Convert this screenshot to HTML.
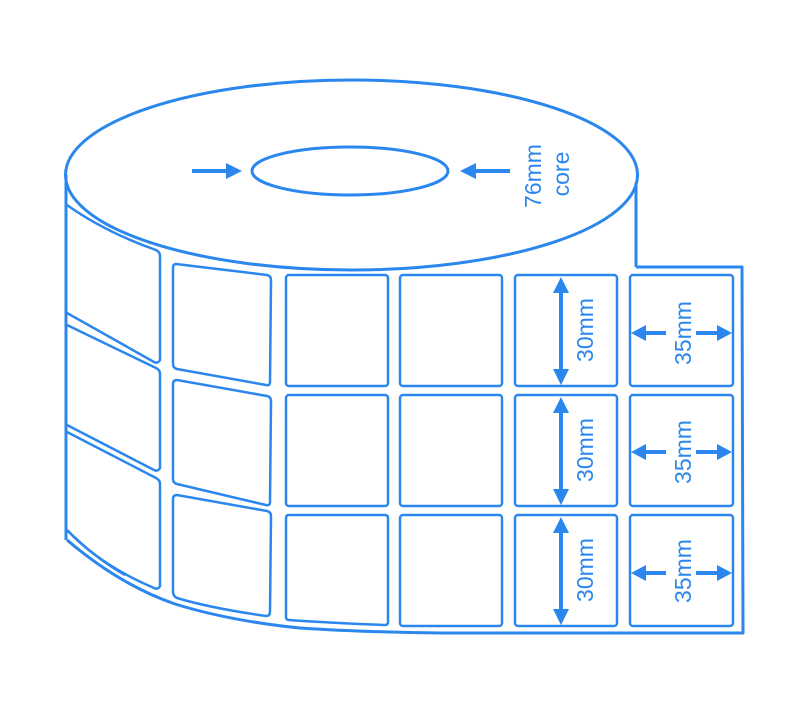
<!DOCTYPE html>
<html><head><meta charset="utf-8"><style>
html,body{margin:0;padding:0;background:#fff;}
svg{display:block;}
text{font-family:"Liberation Sans",sans-serif;fill:#2b87ee;font-size:23px;}
</style></head><body>
<svg width="800" height="714" viewBox="0 0 800 714" xmlns="http://www.w3.org/2000/svg">
<g fill="none" stroke="#2b87ee" stroke-width="3" stroke-linejoin="round">
<ellipse cx="351.5" cy="175" rx="286" ry="95"/>
<ellipse cx="350" cy="171" rx="98" ry="24"/>
<line x1="66" y1="175" x2="66" y2="540"/>
<line x1="636" y1="183" x2="636" y2="267"/>
<path d="M636,267 L742,267 L743,633 L440,633 Q360,632 300,628 Q230,621 175,604 Q120,585 67,540" />
<path d="M67,530 Q95,558 125,575" stroke-width="2.5"/>
</g>
<g fill="none" stroke="#2b87ee" stroke-width="2.5" stroke-linejoin="round">
<path d="M67,205 Q105,232 156,250 Q160,252 160,256 L160,360 Q158,364 154,362 L67,313"/>
<path d="M67,325 L156,368 Q160,370 160,374 L160,468 Q158,472 154,470 L67,425"/>
<path d="M67,432 L156,478 Q160,480 160,484 L160,586 Q158,590 154,588 Q100,565 67,530"/>
<path d="M176,264 L267,275 Q271,276 271,280 L270,382 Q270,386 266,385 L177,369 Q173,368 173,364 L173,268 Q173,264 176,264Z"/>
<path d="M177,380 L267,396 Q271,397 271,401 L270,502 Q270,506 266,505 L177,484 Q173,483 173,479 L173,384 Q173,380 177,380Z"/>
<path d="M177,495 L267,511 Q271,512 271,516 L270,612 Q270,616 266,616 Q210,608 177,598 Q173,596 173,592 L173,499 Q173,495 177,495Z"/>
<rect x="286" y="275" width="102" height="111" rx="3"/>
<rect x="400" y="275" width="102" height="111" rx="3"/>
<rect x="515" y="275" width="102" height="111" rx="3"/>
<rect x="630" y="275" width="103" height="111" rx="3"/>
<rect x="286" y="395" width="102" height="111" rx="3"/>
<rect x="400" y="395" width="102" height="111" rx="3"/>
<rect x="515" y="395" width="102" height="111" rx="3"/>
<rect x="630" y="395" width="103" height="111" rx="3"/>
<path d="M289,515 L385,515 Q388,515 388,518 L388,622 Q388,625 385,625 Q330,623 289,620 Q286,620 286,617 L286,518 Q286,515 289,515Z"/>
<rect x="400" y="515" width="102" height="111" rx="3"/>
<rect x="515" y="515" width="102" height="111" rx="3"/>
<rect x="630" y="515" width="103" height="111" rx="3"/>
</g>
<g stroke="#2b87ee" stroke-width="4" fill="#2b87ee">
<line x1="192" y1="171" x2="228" y2="171"/>
<polygon points="242,171 226,163 226,179" stroke="none"/>
<line x1="474" y1="171" x2="510" y2="171"/>
<polygon points="460,171 476,163 476,179" stroke="none"/>
</g>
<g stroke="#2b87ee" stroke-width="4" fill="#2b87ee">
<line x1="561" y1="290" x2="561" y2="372"/>
<polygon points="561,277 553,293 569,293" stroke="none"/>
<polygon points="561,385 553,369 569,369" stroke="none"/>
<line x1="561" y1="410" x2="561" y2="492"/>
<polygon points="561,397 553,413 569,413" stroke="none"/>
<polygon points="561,505 553,489 569,489" stroke="none"/>
<line x1="561" y1="530" x2="561" y2="612"/>
<polygon points="561,517 553,533 569,533" stroke="none"/>
<polygon points="561,625 553,609 569,609" stroke="none"/>
<line x1="640" y1="333" x2="666" y2="333"/>
<line x1="696" y1="333" x2="722" y2="333"/>
<polygon points="631,333 646,325 646,341" stroke="none"/>
<polygon points="732,333 717,325 717,341" stroke="none"/>
<line x1="640" y1="452" x2="666" y2="452"/>
<line x1="696" y1="452" x2="722" y2="452"/>
<polygon points="631,452 646,444 646,460" stroke="none"/>
<polygon points="732,452 717,444 717,460" stroke="none"/>
<line x1="640" y1="573" x2="666" y2="573"/>
<line x1="696" y1="573" x2="722" y2="573"/>
<polygon points="631,573 646,565 646,581" stroke="none"/>
<polygon points="732,573 717,565 717,581" stroke="none"/>
</g>
<g>
<text transform="translate(541,176) rotate(-90)" text-anchor="middle">76mm</text>
<text transform="translate(569,174) rotate(-90)" text-anchor="middle">core</text>
<text transform="translate(593,330) rotate(-90)" text-anchor="middle">30mm</text>
<text transform="translate(593,450) rotate(-90)" text-anchor="middle">30mm</text>
<text transform="translate(593,570) rotate(-90)" text-anchor="middle">30mm</text>
<text transform="translate(691,333) rotate(-90)" text-anchor="middle">35mm</text>
<text transform="translate(691,452) rotate(-90)" text-anchor="middle">35mm</text>
<text transform="translate(691,571) rotate(-90)" text-anchor="middle">35mm</text>
</g>
</svg>
</body></html>
